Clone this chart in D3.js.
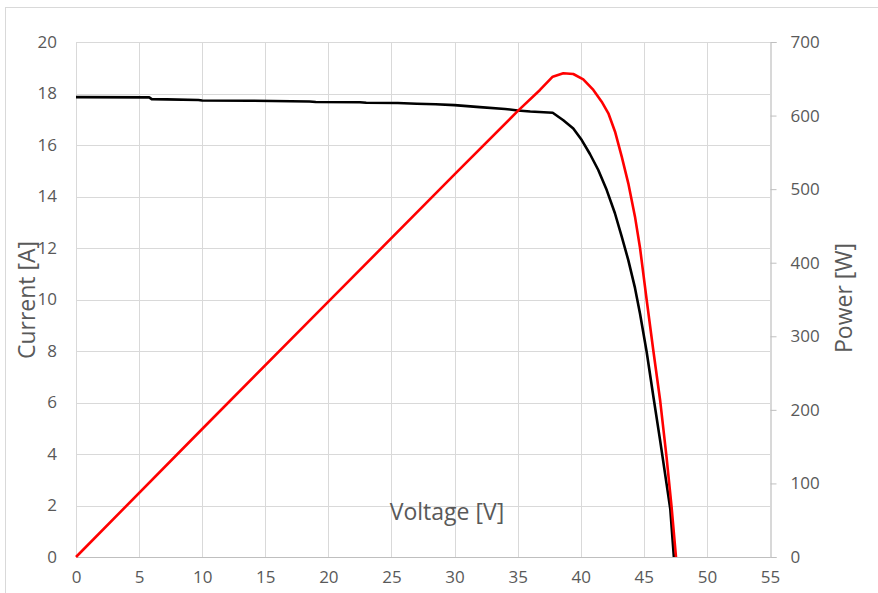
<!DOCTYPE html>
<html>
<head>
<meta charset="utf-8">
<script src="https://cdn.jsdelivr.net/npm/d3@7"></script>
<style>
  html, body { margin: 0; padding: 0; background: #fff; }
  svg { display: block; }
  text { font-family: "Open Sans", "Liberation Sans", sans-serif; fill: #595959; }
</style>
</head>
<body>
<svg id="chart" width="878" height="593"></svg>
<script>
// ---- data ----
const xTicks = [0, 5, 10, 15, 20, 25, 30, 35, 40, 45, 50, 55];
const currentTicks = [0, 2, 4, 6, 8, 10, 12, 14, 16, 18, 20];
const powerTicks = [0, 100, 200, 300, 400, 500, 600, 700];

const voltageI = [0, 5.8, 6.0, 7.2, 9.7, 10, 13.8, 18.5, 19, 22.5, 23, 25.5, 27, 28.5, 30, 32, 34, 35, 36, 37.78, 38.62, 39.41, 40.08, 40.73, 41.39, 42.06, 42.71, 43.25, 43.77, 44.3, 44.7, 45.23, 45.75, 46.3, 46.8, 47.1, 47.38];
const current  = [17.86, 17.85, 17.78, 17.77, 17.75, 17.73, 17.72, 17.69, 17.67, 17.66, 17.64, 17.63, 17.60, 17.58, 17.55, 17.47, 17.40, 17.34, 17.30, 17.25, 16.96, 16.64, 16.19, 15.65, 15.03, 14.25, 13.35, 12.44, 11.53, 10.45, 9.45, 7.95, 6.25, 4.5, 2.85, 1.85, 0];

const voltageP = [0, 10, 20, 30, 35, 36.77, 37.78, 38.62, 39.41, 40.2, 41.0, 41.66, 42.19, 42.72, 43.25, 43.77, 44.3, 44.7, 45.23, 45.75, 46.3, 46.8, 47.2, 47.55];
const power    = [0, 174, 347, 520, 606, 634.8, 652.9, 657.5, 656.5, 649.3, 634.8, 618.9, 603.1, 578.1, 544.1, 507.9, 462.6, 420, 349, 281, 212, 136, 68, 0];

// ---- layout ----
const svg = d3.select("#chart");
const mLeft = 76, mRight = 770, mTop = 42, mBottom = 557;

const x = d3.scaleLinear().domain([0, 55]).range([mLeft, mRight]);
const yI = d3.scaleLinear().domain([0, 20]).range([mBottom, mTop]);
const yP = d3.scaleLinear().domain([0, 700]).range([mBottom, mTop]);

// outer frame
svg.append("rect")
  .attr("x", 5.5).attr("y", 7.5).attr("width", 890).attr("height", 600)
  .attr("fill", "none").attr("stroke", "#d9d9d9").attr("stroke-width", 1);

// gridlines
const grid = svg.append("g");
grid.selectAll("line.h").data(currentTicks.filter(d => d > 0)).join("line")
  .attr("x1", mLeft).attr("x2", mRight)
  .attr("y1", d => Math.round(yI(d)) + 0.5).attr("y2", d => Math.round(yI(d)) + 0.5)
  .attr("stroke", "#d9d9d9").attr("stroke-width", 1);
grid.selectAll("line.v").data(xTicks.filter(d => d < 55)).join("line")
  .attr("y1", mTop).attr("y2", mBottom)
  .attr("x1", d => Math.round(x(d)) + 0.5).attr("x2", d => Math.round(x(d)) + 0.5)
  .attr("stroke", "#d9d9d9").attr("stroke-width", 1);

// axes
const xAxis = d3.axisBottom(x).tickValues(xTicks).tickSize(0).tickPadding(14).tickFormat(d3.format("d"));
const gx = svg.append("g").attr("transform", `translate(0,${mBottom})`).call(xAxis);
gx.select(".domain").attr("stroke", "#bfbfbf").attr("stroke-width", 1.2);
gx.selectAll("text").style("font-size", "17px").attr("fill", "#595959");

const yAxisL = d3.axisLeft(yI).tickValues(currentTicks).tickSize(0).tickPadding(19).tickFormat(d3.format("d"));
const gyl = svg.append("g").attr("transform", `translate(${mLeft},0)`).call(yAxisL);
gyl.select(".domain").remove();
gyl.selectAll("text").style("font-size", "17px").attr("fill", "#595959");

const yAxisR = d3.axisRight(yP).tickValues(powerTicks).tickSize(6).tickPadding(14).tickFormat(d3.format("d"));
const gyr = svg.append("g").attr("transform", `translate(${mRight + 0.5},0)`).call(yAxisR);
gyr.select(".domain").attr("stroke", "#bfbfbf").attr("stroke-width", 1.2);
gyr.selectAll("line").attr("stroke", "#bfbfbf");
gyr.selectAll("text").style("font-size", "17px").attr("fill", "#595959");

// series
const lineI = d3.line().x((d, i) => x(voltageI[i])).y(d => yI(d));
const lineP = d3.line().x((d, i) => x(voltageP[i])).y(d => yP(d));

svg.append("path").datum(current).attr("d", lineI)
  .attr("fill", "none").attr("stroke", "#000").attr("stroke-width", 2.6).attr("stroke-linejoin", "round");
svg.append("path").datum(power).attr("d", lineP)
  .attr("fill", "none").attr("stroke", "#ff0000").attr("stroke-width", 2.6).attr("stroke-linejoin", "round");

// titles
svg.append("text").attr("x", 447).attr("y", 520).attr("text-anchor", "middle")
  .style("font-size", "23px").text("Voltage [V]");
svg.append("text").attr("transform", "translate(35,300) rotate(-90)").attr("text-anchor", "middle")
  .style("font-size", "23px").text("Current [A]");
svg.append("text").attr("transform", "translate(852,298) rotate(-90)").attr("text-anchor", "middle")
  .style("font-size", "23px").text("Power [W]");
</script>
</body>
</html>
